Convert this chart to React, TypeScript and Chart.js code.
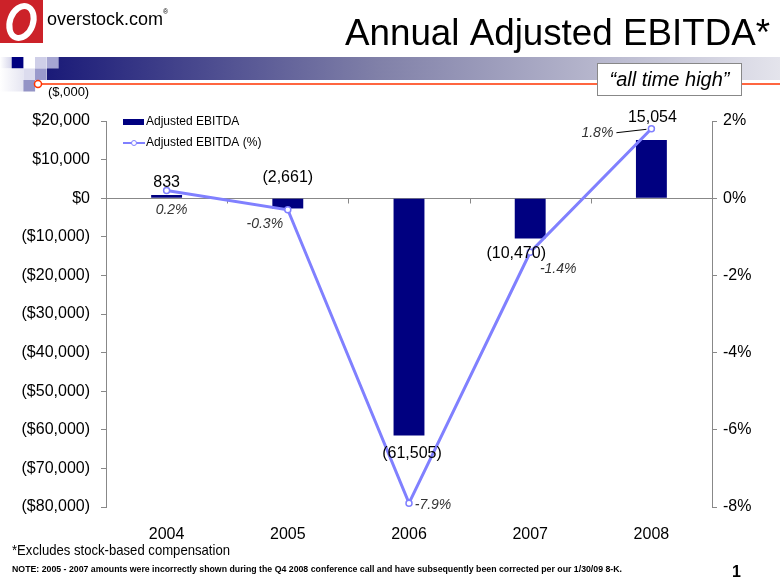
import React, { useEffect, useRef } from 'react';
import { Chart, registerables } from 'chart.js';

Chart.register(...registerables);

const categories = ['2004', '2005', '2006', '2007', '2008'];
const ebitda = [833, -2661, -61505, -10470, 15054];
const ebitdaPct = [0.2, -0.3, -7.9, -1.4, 1.8];
const ebitdaLabels = ['833', '(2,661)', '(61,505)', '(10,470)', '15,054'];
const pctLabels = ['0.2%', '-0.3%', '-7.9%', '-1.4%', '1.8%'];

const FONT = "Arial, 'Liberation Sans', sans-serif";
const NAVY = '#000080';
const LINE = '#8080ff';

// label offsets (style only)
const barLabelOffsets = [
  [0, -8],
  [0, -26],
  [3, 22],
  [-14, 19],
  [1, -18],
];
const pctLabelOffsets = [
  [5, 24],
  [-23, 18],
  [24, 6],
  [28, 21],
  [-54, 8],
];

function fitText(ctx: CanvasRenderingContext2D, text: string, x: number, y: number, width: number) {
  const w = ctx.measureText(text).width;
  ctx.save();
  ctx.translate(x, y);
  ctx.scale(width / w, 1);
  ctx.fillText(text, 0, 0);
  ctx.restore();
}

const headerPlugin = {
  id: 'header',
  beforeDraw(chart: any) {
    const ctx: CanvasRenderingContext2D = chart.ctx;
    ctx.save();
    ctx.fillStyle = '#fff';
    ctx.fillRect(0, 0, chart.width, chart.height);

    // logo
    ctx.fillStyle = '#cc2229';
    ctx.fillRect(0, 0, 43, 43);
    ctx.strokeStyle = '#fff';
    ctx.lineWidth = 6;
    ctx.beginPath();
    ctx.ellipse(21.5, 22, 11.5, 16.5, 0.35, 0, Math.PI * 2);
    ctx.stroke();

    ctx.fillStyle = '#000';
    ctx.textBaseline = 'alphabetic';
    ctx.textAlign = 'left';
    ctx.font = `18px ${FONT}`;
    fitText(ctx, 'overstock.com', 47, 25, 116);
    ctx.font = `7px ${FONT}`;
    ctx.fillText('®', 163, 14);

    // title
    ctx.font = `36px ${FONT}`;
    const tw = ctx.measureText('Annual Adjusted EBITDA*').width;
    ctx.save();
    ctx.translate(770, 45);
    ctx.scale(425 / tw, 1);
    ctx.textAlign = 'right';
    ctx.fillText('Annual Adjusted EBITDA*', 0, 0);
    ctx.restore();

    // gradient band
    const g = ctx.createLinearGradient(47, 0, 780, 0);
    g.addColorStop(0, '#1a1a78');
    g.addColorStop(0.45, '#8080a8');
    g.addColorStop(1, '#e4e4ec');
    ctx.fillStyle = g;
    ctx.fillRect(47, 57, 733, 23);

    // squares
    const sq = (x: number, y: number, c: any) => {
      ctx.fillStyle = c;
      ctx.fillRect(x, y, 11.7, 11.5);
    };
    const g0 = ctx.createLinearGradient(0, 0, 12, 0);
    g0.addColorStop(0, '#ffffff');
    g0.addColorStop(1, '#d4d4ea');
    sq(0, 57, g0);
    sq(11.7, 57, '#000080');
    sq(35, 57, '#cfcfe8');
    sq(47, 57, '#a6a6d2');
    const g1 = ctx.createLinearGradient(0, 0, 23, 0);
    g1.addColorStop(0, '#ffffff');
    g1.addColorStop(1, '#e6e6f2');
    ctx.fillStyle = g1;
    ctx.fillRect(0, 68.5, 23.4, 23);
    sq(23.4, 68.5, '#dcdcee');
    sq(35, 68.5, '#9a9acc');
    sq(23.4, 80, '#9494c6');

    // red line
    ctx.strokeStyle = '#ff3300';
    ctx.lineWidth = 1.5;
    ctx.beginPath();
    ctx.moveTo(38, 84);
    ctx.lineTo(780, 84);
    ctx.stroke();
    ctx.fillStyle = '#fff';
    ctx.beginPath();
    ctx.arc(38, 84, 3.5, 0, Math.PI * 2);
    ctx.fill();
    ctx.stroke();

    // all time high box
    ctx.fillStyle = '#fff';
    ctx.fillRect(597, 63, 144, 32);
    ctx.strokeStyle = '#888';
    ctx.lineWidth = 1;
    ctx.strokeRect(597.5, 63.5, 144, 32);
    ctx.fillStyle = '#000';
    ctx.font = `italic 20px ${FONT}`;
    ctx.textAlign = 'center';
    ctx.fillText('\u201call time high\u201d', 669.5, 86);

    // units
    ctx.textAlign = 'left';
    ctx.font = `13px ${FONT}`;
    ctx.fillText('($,000)', 48, 96);

    // footnotes
    ctx.font = `15px ${FONT}`;
    fitText(ctx, '*Excludes stock-based compensation', 12, 555, 218);
    ctx.font = `bold 9px ${FONT}`;
    fitText(
      ctx,
      'NOTE: 2005 - 2007 amounts were incorrectly shown during the Q4 2008 conference call and have subsequently been corrected per our 1/30/09 8-K.',
      12,
      572,
      610
    );
    ctx.font = `bold 16px ${FONT}`;
    ctx.fillText('1', 732, 577);
    ctx.restore();
  },
  beforeDatasetsDraw(chart: any) {
    const ctx: CanvasRenderingContext2D = chart.ctx;
    const { left, right } = chart.chartArea;
    const y0 = Math.round(chart.scales.y.getPixelForValue(0)) + 0.5;
    ctx.save();
    ctx.strokeStyle = '#888';
    ctx.lineWidth = 1;
    ctx.beginPath();
    ctx.moveTo(left, y0);
    ctx.lineTo(right, y0);
    const n = categories.length;
    const w = (right - left) / n;
    for (let k = 1; k < n; k++) {
      const x = Math.round(left + k * w) + 0.5;
      ctx.moveTo(x, y0);
      ctx.lineTo(x, y0 + 5);
    }
    ctx.stroke();
    ctx.restore();
  },
  afterDatasetsDraw(chart: any) {
    const ctx: CanvasRenderingContext2D = chart.ctx;
    const lineMeta = chart.getDatasetMeta(0);
    const barMeta = chart.getDatasetMeta(1);
    ctx.save();
    ctx.textAlign = 'center';
    ctx.textBaseline = 'alphabetic';
    ctx.fillStyle = '#000';
    ctx.font = `16px ${FONT}`;
    barMeta.data.forEach((el: any, i: number) => {
      const [dx, dy] = barLabelOffsets[i];
      ctx.fillText(ebitdaLabels[i], el.x + dx, el.y + dy);
    });
    ctx.font = `italic 14px ${FONT}`;
    ctx.fillStyle = '#333';
    lineMeta.data.forEach((el: any, i: number) => {
      const [dx, dy] = pctLabelOffsets[i];
      ctx.fillText(pctLabels[i], el.x + dx, el.y + dy);
    });
    // leader line for last point
    const last = lineMeta.data[lineMeta.data.length - 1];
    ctx.strokeStyle = '#000';
    ctx.lineWidth = 1;
    ctx.beginPath();
    ctx.moveTo(last.x - 35, last.y + 4);
    ctx.lineTo(last.x - 5, last.y + 0.6);
    ctx.stroke();

    // legend
    ctx.textAlign = 'left';
    ctx.textBaseline = 'middle';
    ctx.fillStyle = NAVY;
    ctx.fillRect(123, 119, 21, 6);
    ctx.strokeStyle = LINE;
    ctx.lineWidth = 2;
    ctx.beginPath();
    ctx.moveTo(123, 143);
    ctx.lineTo(145, 143);
    ctx.stroke();
    ctx.fillStyle = '#fff';
    ctx.lineWidth = 1;
    ctx.beginPath();
    ctx.arc(134, 143, 2.5, 0, Math.PI * 2);
    ctx.fill();
    ctx.stroke();
    ctx.fillStyle = '#000';
    ctx.font = `12px ${FONT}`;
    ctx.fillText('Adjusted EBITDA', 146, 122);
    ctx.fillText('Adjusted EBITDA (%)', 146, 143);
    ctx.restore();
  },
};

function fmtMoney(v: number) {
  const s = Math.abs(v).toLocaleString('en-US');
  return v < 0 ? `($${s})` : `$${s}`;
}

export default function App() {
  const ref = useRef<HTMLCanvasElement>(null);
  useEffect(() => {
    document.body.style.margin = '0';
    const chart = new Chart(ref.current as HTMLCanvasElement, {
      type: 'bar',
      data: {
        labels: categories,
        datasets: [
          {
            type: 'line',
            label: 'Adjusted EBITDA (%)',
            data: ebitdaPct,
            yAxisID: 'y1',
            borderColor: LINE,
            borderWidth: 3,
            pointRadius: 3,
            pointBackgroundColor: '#fff',
            pointBorderColor: LINE,
            pointBorderWidth: 1.5,
            tension: 0,
            order: 0,
          } as any,
          {
            type: 'bar',
            label: 'Adjusted EBITDA',
            data: ebitda,
            yAxisID: 'y',
            backgroundColor: NAVY,
            barPercentage: 0.255,
            categoryPercentage: 1,
            order: 1,
          } as any,
        ],
      },
      options: {
        responsive: false,
        animation: false,
        devicePixelRatio: 1,
        layout: { padding: { top: 121, left: 0, right: 0, bottom: 0 } },
        plugins: { legend: { display: false }, tooltip: { enabled: false } },
        scales: {
          x: {
            grid: { display: false },
            border: { display: false },
            ticks: { font: { size: 16, family: FONT }, color: '#000', padding: 10 },
            afterFit: (s: any) => {
              s.height = 78;
            },
          },
          y: {
            position: 'left',
            min: -80000,
            max: 20000,
            ticks: {
              stepSize: 10000,
              callback: (v: any) => fmtMoney(Number(v)),
              font: { size: 16, family: FONT },
              color: '#000',
              padding: 11,
            },
            grid: { drawOnChartArea: false, drawTicks: true, tickLength: 5, color: '#888' },
            border: { display: true, color: '#888' },
            afterFit: (s: any) => {
              s.width = 106;
            },
          },
          y1: {
            position: 'right',
            min: -8,
            max: 2,
            ticks: {
              stepSize: 2,
              callback: (v: any) => `${v}%`,
              font: { size: 16, family: FONT },
              color: '#000',
              padding: 6,
            },
            grid: { drawOnChartArea: false, drawTicks: true, tickLength: 5, color: '#888' },
            border: { display: true, color: '#888' },
            afterFit: (s: any) => {
              s.width = 68;
            },
          },
        },
      } as any,
      plugins: [headerPlugin],
    });
    return () => chart.destroy();
  }, []);
  return (
    <div style={{ position: 'absolute', left: 0, top: 0, width: 780, height: 585 }}>
      <canvas ref={ref} width={780} height={585} style={{ width: 780, height: 585, display: 'block' }} />
    </div>
  );
}
